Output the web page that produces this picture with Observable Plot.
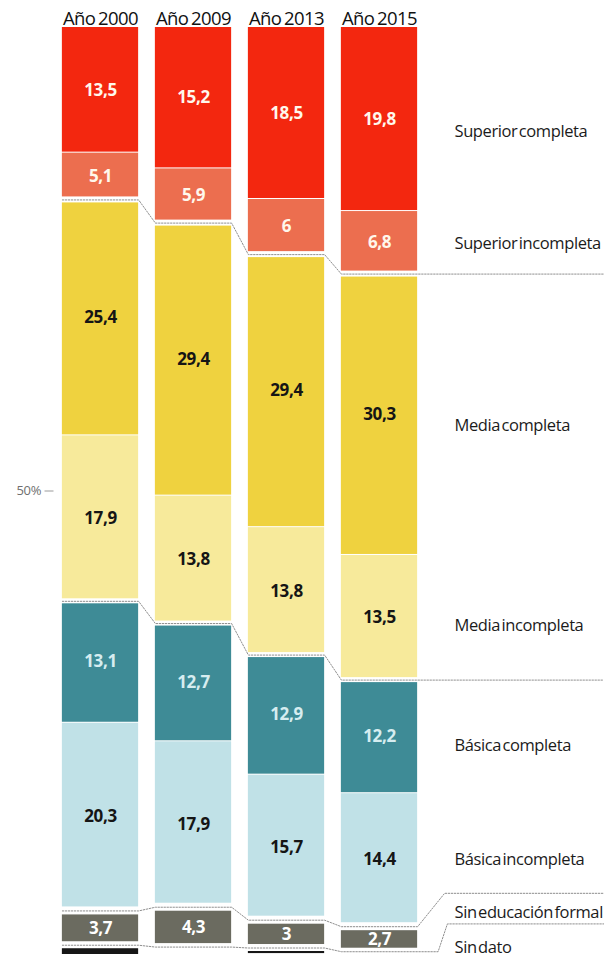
<!DOCTYPE html>
<html><head><meta charset="utf-8">
<script src="https://cdn.jsdelivr.net/npm/d3@7"></script>
<script src="https://cdn.jsdelivr.net/npm/@observablehq/plot@0.6"></script>
<style>
html,body{margin:0;padding:0;background:#fff;}
#chart svg{display:block;}
#chart svg text{letter-spacing:-0.4px;word-spacing:-2.5px;}
#chart [aria-label="x-axis tick label"] text{letter-spacing:-0.6px;word-spacing:-1.5px;}
#chart [aria-label="y-axis tick label"]{fill:#6f6f6f;}
#chart [aria-label="y-axis tick"]{stroke:#9a9a9a;}
</style>
</head><body><div id="chart"></div>
<script>
// ---- data ----
const years = ["2000", "2009", "2013", "2015"];
const categories = ["Superior completa", "Superior incompleta", "Media completa", "Media incompleta",
  "Básica completa", "Básica incompleta", "Sin educación formal", "Sin dato"];
const superiorCompleta   = [13.5, 15.2, 18.5, 19.8];
const superiorIncompleta = [5.1, 5.9, 6, 6.8];
const mediaCompleta      = [25.4, 29.4, 29.4, 30.3];
const mediaIncompleta    = [17.9, 13.8, 13.8, 13.5];
const basicaCompleta     = [13.1, 12.7, 12.9, 12.2];
const basicaIncompleta   = [20.3, 17.9, 15.7, 14.4];
const sinEducacion       = [3.7, 4.3, 3, 2.7];
const sinDato            = [1.0, 0, 0.6, 0];
const yTicks = [50];

// ---- styles ----
const colors     = ["#f3270f", "#ec6e4f", "#efd23f", "#f7ea9b", "#3e8b96", "#c0e1e7", "#6b6b60", "#161616"];
const textColors = ["#fff8ec", "#fff8ec", "#151515", "#151515", "#d6edf0", "#151515", "#ffffff", null];
const insetTops    = [0, 0.5, 3, 0.5, 2.5, 0.5, 4, 3.5];
const insetBottoms = [0.5, 3, 0.5, 2.5, 0.5, 4, 3.5, 0];
const labelDy      = [12, 1, 11, 8, 9, 0, -26, -4];
const halfBar = 0.41;        // half bar width, in slot units
const labelDx = 75;
const lineEnd = 5.41;        // right end of separator lines, slot units

const series = [superiorCompleta, superiorIncompleta, mediaCompleta, mediaIncompleta,
  basicaCompleta, basicaIncompleta, sinEducacion, sinDato];

const rows = [];
const cum = years.map(() => []);
years.forEach((yr, i) => {
  let acc = 0;
  series.forEach((s, k) => {
    const v = s[i];
    rows.push({year: yr, i, k, cat: categories[k], value: v, y1: acc, y2: acc + v});
    acc += v;
    cum[i][k] = acc;
  });
});

const fmt = v => String(v).replace(".", ",");

// connector lines along group boundaries
function connector(kb, tail) {
  const pts = [];
  years.forEach((y, i) => {
    const b = cum[i][kb];
    pts.push({x: i - halfBar, y: b}, {x: i + halfBar, y: b});
  });
  const b3 = cum[3][kb];
  const xr = 3 + halfBar;
  if (!tail) pts.push({x: lineEnd, y: b3});
  else {
    pts.push({x: xr + tail[0], y: b3}, {x: xr + tail[1], y: b3 - tail[2]}, {x: lineEnd, y: b3 - tail[2]});
  }
  return pts;
}
const connectors = [
  connector(1, null),
  connector(3, null),
  connector(5, [0, 0.29, 3.6]),
  connector(6, [0.22, 0.32, 3.0])
];

const marks = [];
categories.forEach((c, k) => {
  marks.push(Plot.rectY(rows.filter(r => r.k === k && r.value > 0), {
    x1: r => r.i - halfBar, x2: r => r.i + halfBar, y1: "y1", y2: "y2",
    fill: colors[k], insetTop: insetTops[k], insetBottom: insetBottoms[k]
  }));
});
connectors.forEach(pts => {
  marks.push(Plot.line(pts, {x: "x", y: "y", stroke: "#8f8f8f", strokeWidth: 1, strokeDasharray: "1.5,1.5"}));
});
categories.forEach((c, k) => {
  if (!textColors[k]) return;
  marks.push(Plot.text(rows.filter(r => r.k === k && r.value > 0), {
    x: "i", y: r => (r.y1 + r.y2) / 2, text: r => fmt(r.value),
    fill: textColors[k], fontSize: 17, fontWeight: "bold"
  }));
});
categories.forEach((c, k) => {
  marks.push(Plot.text(rows.filter(r => r.k === k && r.i === 3), {
    x: "i", y: r => (r.y1 + r.y2) / 2, text: "cat", dx: labelDx, dy: labelDy[k],
    textAnchor: "start", fill: "#1b1b1b", fontSize: 16.5
  }));
});
marks.push(Plot.axisX({anchor: "top", ticks: [0, 1, 2, 3], tickFormat: i => "Año " + years[i],
  tickSize: 0, tickPadding: 3, fontSize: 18.5, fill: "#111"}));
marks.push(Plot.axisY({anchor: "left", ticks: yTicks, tickFormat: d => d + "%", tickSize: 9, tickPadding: 4, fontSize: 13}));

const chart = Plot.plot({
  width: 611, height: 958,
  marginTop: 27, marginBottom: 4, marginLeft: 53.5, marginRight: 185.5,
  style: {fontFamily: "'Open Sans', Lato, sans-serif", background: "#fff"},
  x: {domain: [-0.5, 3.5]},
  y: {domain: [0, 100], reverse: true},
  marks
});
document.getElementById("chart").appendChild(chart);
</script>
</body></html>
